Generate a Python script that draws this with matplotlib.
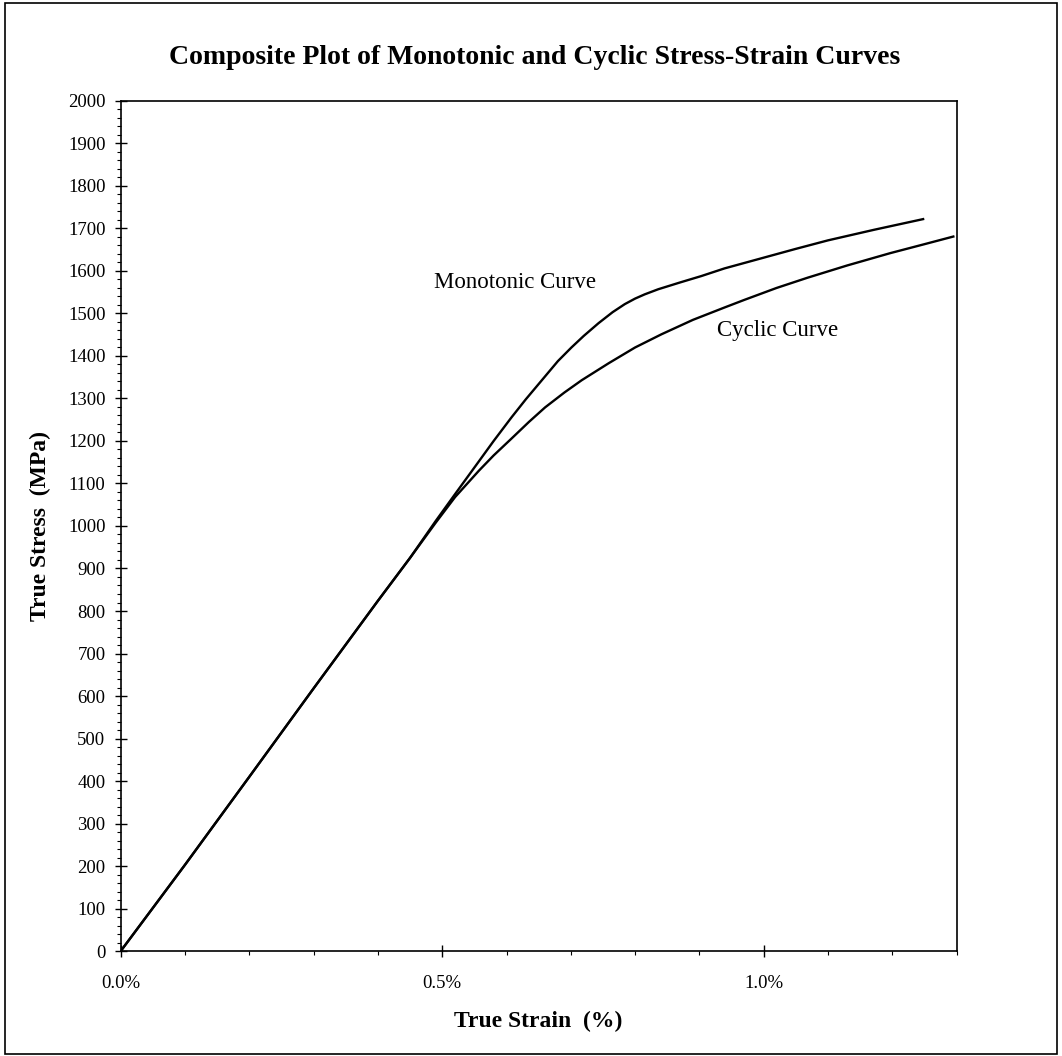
import matplotlib
matplotlib.use("Agg")
import matplotlib.pyplot as plt
from matplotlib.patches import Rectangle
from matplotlib.ticker import MultipleLocator, FuncFormatter

# data (strain in %, stress in MPa)
mono_strain = [0.0, 0.1, 0.2, 0.3, 0.4, 0.45, 0.49, 0.52, 0.557, 0.58, 0.608, 0.63,
               0.655, 0.68, 0.701, 0.72, 0.743, 0.765, 0.784, 0.80, 0.815, 0.836,
               0.87, 0.903, 0.939, 1.05, 1.10, 1.172, 1.248]
mono_stress = [0, 203, 410, 618, 824, 925, 1012, 1075, 1152, 1200, 1256, 1298,
               1343, 1388, 1420, 1447, 1477, 1503, 1522, 1535, 1545, 1557,
               1573, 1588, 1606, 1652, 1672, 1697, 1722]

cyc_strain = [0.0, 0.1, 0.2, 0.3, 0.4, 0.45, 0.49, 0.52, 0.557, 0.58, 0.608, 0.635,
              0.66, 0.69, 0.717, 0.759, 0.80, 0.841, 0.89, 0.939, 0.97, 1.02,
              1.068, 1.13, 1.197, 1.25, 1.295]
cyc_stress = [0, 203, 410, 618, 824, 925, 1008, 1068, 1130, 1166, 1206, 1245,
              1279, 1314, 1343, 1383, 1420, 1451, 1485, 1514, 1532, 1560,
              1584, 1613, 1642, 1663, 1681]

title = "Composite Plot of Monotonic and Cyclic Stress-Strain Curves"

plt.rcParams['font.family'] = ['Liberation Serif', 'DejaVu Serif']

fig = plt.figure(figsize=(10.62, 10.56), dpi=100)
ax = fig.add_axes([0.1137, 0.0994, 0.787, 0.805])

ax.plot(mono_strain, mono_stress, color='black', lw=1.7, solid_joinstyle='round')
ax.plot(cyc_strain, cyc_stress, color='black', lw=1.7, solid_joinstyle='round')

ax.set_xlim(0, 1.3)
ax.set_ylim(0, 2000)

ax.xaxis.set_major_locator(MultipleLocator(0.5))
ax.xaxis.set_minor_locator(MultipleLocator(0.1))
ax.yaxis.set_major_locator(MultipleLocator(100))
ax.yaxis.set_minor_locator(MultipleLocator(20))
ax.xaxis.set_major_formatter(FuncFormatter(lambda v, p: f"{v:.1f}%"))

ax.tick_params(axis='both', which='major', direction='inout', length=8, width=1.0,
               labelsize=13.5)
ax.tick_params(axis='x', which='major', pad=13)
ax.tick_params(axis='y', which='major', pad=7)
ax.tick_params(axis='both', which='minor', direction='out', length=3, width=0.8)

for s in ax.spines.values():
    s.set_linewidth(1.2)

ax.set_xlabel("True Strain  (%)", fontsize=17, fontweight='bold', labelpad=14)
ax.set_ylabel("True Stress  (MPa)", fontsize=17, fontweight='bold', labelpad=12)

ax.text(0.613, 1572, "Monotonic Curve", fontsize=16.5, ha='center', va='center')
ax.text(1.021, 1459, "Cyclic Curve", fontsize=16.5, ha='center', va='center')

fig.text(0.503, 0.946, title, fontsize=20, fontweight='bold', ha='center', va='center')

# outer frame round the whole chart
fig.patches.append(Rectangle((0.005, 0.002), 0.99, 0.995, transform=fig.transFigure,
                             fill=False, edgecolor='black', lw=1.2))

fig.savefig("out.png", dpi=100)
